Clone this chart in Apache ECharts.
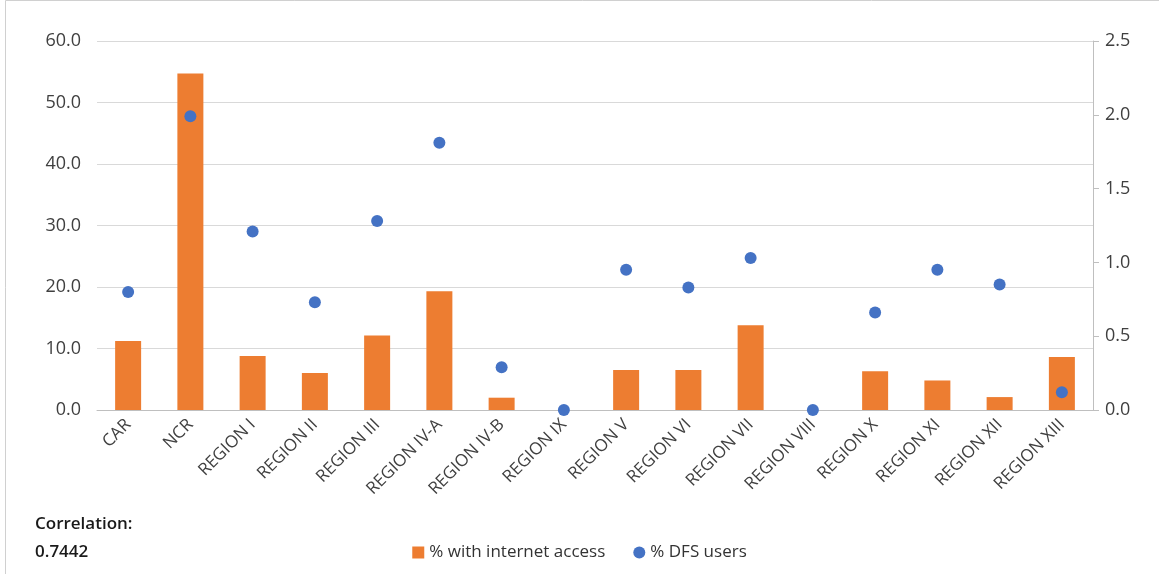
<!DOCTYPE html>
<html><head><meta charset="utf-8">
<script src="https://cdn.jsdelivr.net/npm/echarts@6/dist/echarts.min.js"></script>
<style>html,body{margin:0;padding:0;background:#fff}#c{width:1159px;height:574px}</style>
</head><body><div id="c"></div>
<script>
const categories = ["CAR","NCR","REGION I","REGION II","REGION III","REGION IV-A","REGION IV-B","REGION IX","REGION V","REGION VI","REGION VII","REGION VIII","REGION X","REGION XI","REGION XII","REGION XIII"];
const internetAccess = [11.2, 54.7, 8.8, 6.0, 12.1, 19.3, 2.0, 0, 6.5, 6.5, 13.8, 0, 6.3, 4.8, 2.1, 8.6];
const dfsUsers = [0.80, 1.99, 1.21, 0.73, 1.28, 1.81, 0.29, 0, 0.95, 0.83, 1.03, 0, 0.66, 0.95, 0.85, 0.12];
const seriesNames = ["% with internet access", "% DFS users"];
const correlationText = ["Correlation:", "0.7442"];

const font = "'Open Sans', 'Noto Sans', sans-serif";
const chart = echarts.init(document.getElementById('c'), null, {renderer:'canvas'});
chart.setOption({
  animation:false,
  backgroundColor:'#fff',
  grid:{left:97, right:66, top:41, bottom:164, containLabel:false},
  legend:{
    bottom:8, left:'center', itemGap:28, itemWidth:12, itemHeight:12,
    textStyle:{fontFamily:font, fontSize:17, color:'#333'},
    data:[{name:seriesNames[0], icon:'rect'},{name:seriesNames[1], icon:'circle'}]
  },
  graphic:[
    {type:'rect', shape:{x:5.5,y:0.5,width:1200,height:600}, style:{fill:'none', stroke:'#d0d0d0', lineWidth:1}},
    {type:'text', left:35, top:516, style:{text:correlationText[0], font:"600 17px "+font, fill:'#1a1a1a'}},
    {type:'text', left:35, top:544, style:{text:correlationText[1], font:"600 17px "+font, fill:'#1a1a1a'}}
  ],
  xAxis:{
    type:'category', data:categories,
    axisLine:{lineStyle:{color:'#bfbfbf'}},
    axisTick:{show:false},
    axisLabel:{rotate:45, interval:0, fontFamily:font, fontSize:17, color:'#404040', margin:12}
  },
  yAxis:[
    {type:'value', min:0, max:60, interval:10,
     axisLine:{show:false}, axisTick:{show:false},
     splitLine:{lineStyle:{color:'#d9d9d9'}},
     axisLabel:{formatter:v=>v.toFixed(1), fontFamily:font, fontSize:18, color:'#404040', margin:16}},
    {type:'value', min:0, max:2.5, interval:0.5, position:'right',
     axisLine:{show:true, lineStyle:{color:'#bfbfbf'}},
     axisTick:{show:true, inside:false, length:6, lineStyle:{color:'#bfbfbf'}},
     splitLine:{show:false},
     axisLabel:{formatter:v=>v.toFixed(1), fontFamily:font, fontSize:18, color:'#404040', margin:12}}
  ],
  series:[
    {name:seriesNames[0], type:'bar', data:internetAccess, yAxisIndex:0, barWidth:26,
     itemStyle:{color:'#ED7D31'}},
    {name:seriesNames[1], type:'scatter', data:dfsUsers, yAxisIndex:1, symbolSize:12,
     itemStyle:{color:'#4472C4', opacity:1}, z:5}
  ]
});
</script></body></html>
